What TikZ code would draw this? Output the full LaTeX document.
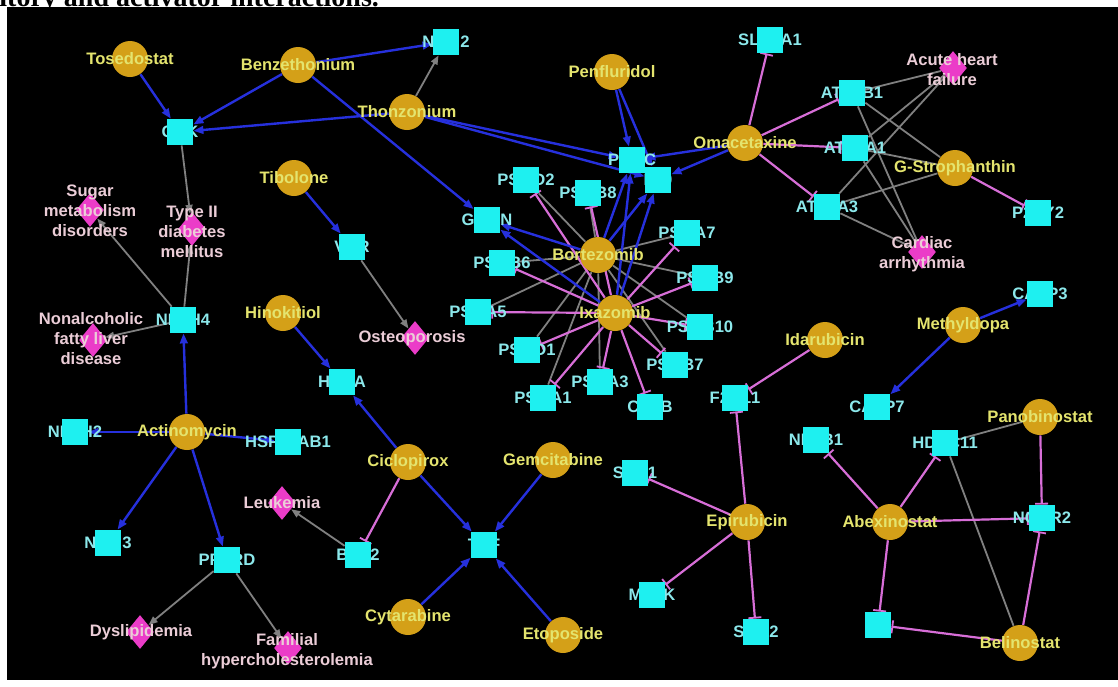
\documentclass[tikz,border=0pt]{standalone}
\usepackage{fontspec}
\newfontfamily\labf{Liberation Sans}
\newfontfamily\capf{Liberation Serif}
\usetikzlibrary{arrows.meta,shapes.geometric}
\pgfdeclarelayer{back}
\pgfdeclarelayer{edges}
\pgfsetlayers{back,edges,main}
\definecolor{bgk}{RGB}{0,0,0}
\definecolor{drugc}{RGB}{212,160,24}
\definecolor{druglc}{RGB}{228,228,110}
\definecolor{genec}{RGB}{30,240,240}
\definecolor{genelc}{RGB}{140,232,235}
\definecolor{disc}{RGB}{235,60,200}
\definecolor{dislc}{RGB}{235,205,215}
\definecolor{actc}{RGB}{38,48,220}
\definecolor{inhc}{RGB}{215,110,215}
\definecolor{gryc}{RGB}{128,128,128}
\tikzset{
  drug/.style={circle,fill=drugc,draw=none,minimum size=18pt,inner sep=0pt},
  gene/.style={rectangle,fill=genec,draw=none,minimum size=13pt,inner sep=0pt},
  dis/.style={diamond,fill=disc,draw=none,minimum width=14pt,minimum height=17pt,inner sep=0pt},
  dlbl/.style={text=druglc,inner sep=0pt,font=\labf\bfseries\fontsize{8.3}{10}\selectfont},
  glbl/.style={text=genelc,inner sep=0pt,font=\labf\bfseries\fontsize{8.3}{10}\selectfont},
  slbl/.style={text=dislc,inner sep=0pt,align=center,font=\labf\bfseries\fontsize{8.3}{10}\selectfont},
  act/.style={draw=actc,line width=1.2pt,-{Triangle[length=5pt,width=3.8pt]}},
  inh/.style={draw=inhc,line width=1.1pt,-{Bar[width=6.5pt,line width=0.9pt]}},
  garr/.style={draw=gryc,line width=0.9pt,-{Triangle[length=4.5pt,width=3.5pt]}},
  gline/.style={draw=gryc,line width=0.9pt}
}
\newcommand\dr[4]{\node[drug] (#1) at (#2,#3) {}; \node[dlbl] (#1-l) at (#2,#3) {#4};}
\newcommand\gn[4]{\node[glbl] (#1-l) at (#2,#3) {#4}; \node[gene] (#1) at (#2,#3) {};}
\newcommand\ds[6]{\node[dis] (#1) at (#2,#3) {}; \node[slbl] (#1-l) at (#4,#5) {#6};}
\begin{document}
\begin{tikzpicture}[x=0.5pt,y=-0.5pt]
\useasboundingbox (0,0) rectangle (1118,686);
\begin{pgfonlayer}{back}
\fill[white] (0,0) rectangle (1118,686);
\fill[bgk] (7,7) rectangle (1118,680);
\begin{scope}
\clip (0,0) rectangle (1118,7);
\node[anchor=base west,inner sep=0pt,font=\capf\bfseries\fontsize{14}{14}\selectfont] (cap) at (-1,6) {itory and activator interactions.};
\end{scope}
\end{pgfonlayer}

% genes (labels first, squares over them)
\gn{gck}{180}{132}{GCK}
\gn{nr1i2}{446}{42}{NR1I2}
\gn{slc}{770}{40}{SLC7A1}
\gn{atpb1}{852}{93}{ATP1B1}
\gn{atpa1}{855}{148}{ATP1A1}
\gn{atpa3}{827}{207}{ATP1A3}
\gn{p2ry2}{1038}{213}{P2RY2}
\gn{proc}{632}{160}{PROC}
\gn{f10}{658}{180}{F10}
\gn{psmd2}{526}{180}{PSMD2}
\gn{psmb8}{588}{193}{PSMB8}
\gn{gmnn}{487}{220}{GMNN}
\gn{psma7}{687}{233}{PSMA7}
\gn{psmb6}{502}{263}{PSMB6}
\gn{psmb9}{705}{278}{PSMB9}
\gn{psma5}{478}{312}{PSMA5}
\gn{psmb10}{700}{327}{PSMB10}
\gn{psmd1}{527}{350}{PSMD1}
\gn{psmb7}{675}{365}{PSMB7}
\gn{psma3}{600}{382}{PSMA3}
\gn{psma1}{543}{398}{PSMA1}
\gn{ctsb}{650}{407}{CTSB}
\gn{vdr}{352}{247}{VDR}
\gn{nr1h4}{183}{320}{NR1H4}
\gn{hif1a}{342}{382}{HIF1A}
\gn{nr1h2}{75}{432}{NR1H2}
\gn{hsp}{288}{442}{HSP90AB1}
\gn{nr1i3}{108}{543}{NR1I3}
\gn{ppard}{227}{560}{PPARD}
\gn{bcl2}{358}{555}{BCL2}
\gn{tnf}{484}{545}{TNF}
\gn{src1}{635}{473}{SRC1}
\gn{matk}{652}{595}{MATK}
\gn{f2rl1}{735}{398}{F2RL1}
\gn{sgk2}{756}{632}{SGK2}
\gn{casp3}{1040}{294}{CASP3}
\gn{casp7}{877}{407}{CASP7}
\gn{nr3b1}{816}{440}{NR3B1}
\gn{hdac11}{945}{443}{HDAC11}
\gn{ncor2}{1042}{518}{NCOR2}
\gn{f3}{878}{625}{F3}

% drugs
\dr{tos}{130}{59}{Tosedostat}
\dr{ben}{298}{65}{Benzethonium}
\dr{tho}{407}{112}{Thonzonium}
\dr{pen}{612}{72}{Penfluridol}
\dr{oma}{745}{143}{Omacetaxine}
\dr{gst}{955}{168}{G-Strophanthin}
\dr{tib}{294}{178}{Tibolone}
\dr{bor}{598}{255}{Bortezomib}
\dr{ixa}{615}{313}{Ixazomib}
\dr{hin}{283}{313}{Hinokitiol}
\dr{met}{963}{325}{Methyldopa}
\dr{ida}{825}{340}{Idarubicin}
\dr{act}{187}{432}{Actinomycin}
\dr{pan}{1040}{417}{Panobinostat}
\dr{cic}{408}{462}{Ciclopirox}
\dr{gem}{553}{460}{Gemcitabine}
\dr{epi}{747}{522}{Epirubicin}
\dr{abe}{890}{522}{Abexinostat}
\dr{cyt}{408}{617}{Cytarabine}
\dr{eto}{563}{635}{Etoposide}
\dr{bel}{1020}{643}{Belinostat}

% diseases
\ds{t2d}{192}{229}{192}{232}{Type II\\diabetes\\mellitus}
\ds{sugar}{90}{210}{90}{211}{Sugar\\metabolism\\disorders}
\ds{nafld}{93}{340}{91}{339}{Nonalcoholic\\fatty liver\\disease}
\ds{osteo}{415}{338}{412}{338}{Osteoporosis}
\ds{leuk}{282}{503}{282}{503}{Leukemia}
\ds{dysl}{140}{632}{141}{632}{Dyslipidemia}
\ds{famh}{288}{648}{287}{651}{Familial\\hypercholesterolemia}
\ds{ahf}{953}{68}{952}{70}{Acute heart\\failure}
\ds{card}{922}{252}{922}{254}{Cardiac\\arrhythmia}

\begin{pgfonlayer}{edges}
% gray lines
\foreach \g in {atpb1,atpa1,atpa3}{
  \draw[gline] (\g) -- (ahf);
  \draw[gline] (\g) -- (card);
  \draw[gline] (gst) -- (\g);
}
\draw[gline] (bel) -- (hdac11);
\draw[gline] (pan) -- (hdac11);
\foreach \g in {psmd2,psmb8,psma7,psmb9,psmb10,psmb7,psma3,psma1,psmd1,psma5,psmb6}{
  \draw[gline] (bor) -- (\g);
}
% gray arrows
\draw[garr] (tho) -- (nr1i2);
\draw[garr] (gck) -- (t2d);
\draw[garr] (nr1h4) -- (t2d);
\draw[garr] (nr1h4) -- (sugar);
\draw[garr] (nr1h4) -- (nafld);
\draw[garr] (vdr) -- (osteo);
\draw[garr] (ppard) -- (dysl);
\draw[garr] (ppard) -- (famh);
\draw[garr] (bcl2) -- (leuk);
% inhibition
\foreach \g in {psmd2,psmb8,psma7,psmb9,psmb10,psmb7,ctsb,psma3,psma1,psmd1,psma5,psmb6}{
  \draw[inh] (ixa) -- (\g);
}
\draw[inh] (oma) -- (slc);
\draw[inh] (oma) -- (atpb1);
\draw[inh] (oma) -- (atpa1);
\draw[inh] (oma) -- (atpa3);
\draw[inh] (gst) -- (p2ry2);
\draw[inh] (ida) -- (f2rl1);
\draw[inh] (epi) -- (f2rl1);
\draw[inh] (epi) -- (src1);
\draw[inh] (epi) -- (matk);
\draw[inh] (epi) -- (sgk2);
\draw[inh] (abe) -- (nr3b1);
\draw[inh] (abe) -- (hdac11);
\draw[inh] (abe) -- (ncor2);
\draw[inh] (abe) -- (f3);
\draw[inh] (pan) -- (ncor2);
\draw[inh] (bel) -- (ncor2);
\draw[inh] (bel) -- (f3);
\draw[inh] (cic) -- (bcl2);
% activation
\draw[act] (tos) -- (gck);
\draw[act] (ben) -- (gck);
\draw[act] (tho) -- (gck);
\draw[act] (ben) -- (nr1i2);
\draw[act] (ben) -- (gmnn);
\draw[act] (tho) -- (proc);
\draw[act] (tho) -- (f10);
\draw[act] (pen) -- (proc);
\draw[act] (pen) -- (f10);
\draw[act] (oma) -- (proc);
\draw[act] (oma) -- (f10);
\draw[act] (bor) -- (proc);
\draw[act] (bor) -- (f10);
\draw[act] (ixa) -- (proc);
\draw[act] (ixa) -- (f10);
\draw[act] (bor) -- (gmnn);
\draw[act] (ixa) -- (gmnn);
\draw[act] (tib) -- (vdr);
\draw[act] (hin) -- (hif1a);
\draw[act] (cic) -- (hif1a);
\draw[act] (cic) -- (tnf);
\draw[act] (gem) -- (tnf);
\draw[act] (cyt) -- (tnf);
\draw[act] (eto) -- (tnf);
\draw[act] (act) -- (nr1h4);
\draw[act] (act) -- (nr1h2);
\draw[act] (act) -- (hsp);
\draw[act] (act) -- (nr1i3);
\draw[act] (act) -- (ppard);
\draw[act] (met) -- (casp3);
\draw[act] (met) -- (casp7);
\end{pgfonlayer}
\end{tikzpicture}
\end{document}
